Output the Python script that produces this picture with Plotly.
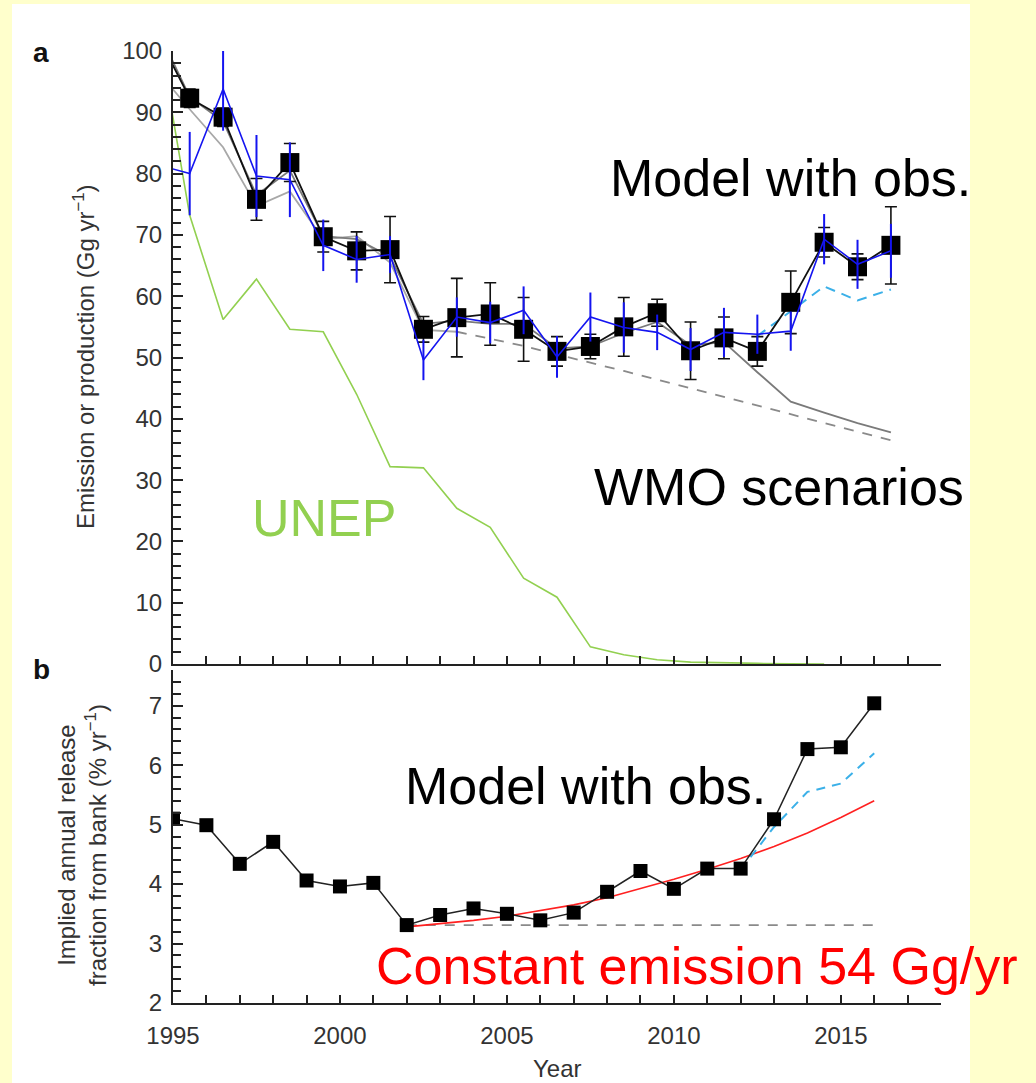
import plotly.graph_objects as go

# ---------------- data ----------------
# Panel a: emissions / production (Gg/yr), plotted at mid-year
years_a = [1994.5, 1995.5, 1996.5, 1997.5, 1998.5, 1999.5, 2000.5, 2001.5, 2002.5, 2003.5,
           2004.5, 2005.5, 2006.5, 2007.5, 2008.5, 2009.5, 2010.5, 2011.5, 2012.5, 2013.5,
           2014.5, 2015.5, 2016.5]
noaa_emis = [103.0, 92.3, 89.2, 75.8, 81.8, 69.7, 67.4, 67.6, 54.6, 56.5,
             57.1, 54.6, 51.0, 51.8, 55.0, 57.3, 51.1, 53.2, 51.0, 59.0,
             68.8, 64.8, 68.3]
noaa_err = [0, 1.5, 1.5, 3.4, 3.1, 2.5, 3.1, 5.4, 2.1, 6.4,
            5.1, 5.2, 2.4, 2.0, 4.8, 2.2, 4.7, 3.4, 2.4, 5.1,
            2.4, 2.1, 6.3]
agage_emis = [81.5, 80.0, 93.8, 79.6, 79.0, 68.3, 66.0, 66.8, 49.6, 56.6,
              55.7, 57.7, 50.1, 56.6, 54.9, 54.1, 51.3, 54.1, 53.8, 54.3,
              69.3, 65.2, 67.4]
agage_err = [0, 6.8, 6.8, 6.7, 6.1, 4.2, 3.8, 3.0, 3.3, 3.2,
             3.4, 3.9, 3.4, 4.0, 4.1, 2.9, 3.5, 4.0, 3.2, 3.2,
             4.1, 4.0, 4.4]
wmo_a = [104.0, 92.5, 88.5, 76.5, 80.5, 69.8, 69.3, 66.5, 55.5, 56.0,
         55.5, 55.5, 51.5, 51.8, 54.0, 55.8, 52.0, 52.5, 47.6, 42.8,
         41.0, 39.3, 37.8]
years_wmo_b = [1994.5, 1995.5, 1996.5, 1997.5, 1998.5, 1999.5, 2000.5, 2001.5, 2002.5, 2003.5]
wmo_b = [97.0, 90.5, 84.3, 74.7, 77.1, 69.3, 69.8, 65.5, 54.5, 54.2]
years_wmo_dash = [2003.5, 2004.5, 2005.5, 2006.5, 2007.5, 2008.5, 2009.5, 2010.5, 2011.5,
                  2012.5, 2013.5, 2014.5, 2015.5, 2016.5]
wmo_dash = [54.2, 53.0, 51.9, 50.5, 49.2, 47.8, 46.4, 45.0, 43.6, 42.2, 40.8, 39.3, 37.9, 36.5]
years_alt_a = [2012.5, 2013.5, 2014.5, 2015.5, 2016.5]
alt_a = [53.5, 57.5, 61.6, 59.3, 61.1]
years_unep = [1994.5, 1995.5, 1996.5, 1997.5, 1998.5, 1999.5, 2000.5, 2001.5, 2002.5, 2003.5,
              2004.5, 2005.5, 2006.5, 2007.5, 2008.5, 2009.5, 2010.5, 2011.5, 2012.5, 2013.5,
              2014.5]
unep_prod = [105.0, 73.2, 56.2, 62.8, 54.6, 54.2, 44.0, 32.2, 32.0, 25.4,
             22.3, 14.0, 10.9, 2.8, 1.5, 0.7, 0.3, 0.15, 0.1, 0.05, 0.0]

# Panel b: implied annual release fraction (% / yr)
years_b = [1995, 1996, 1997, 1998, 1999, 2000, 2001, 2002, 2003, 2004, 2005,
           2006, 2007, 2008, 2009, 2010, 2011, 2012, 2013, 2014, 2015, 2016]
release_obs = [5.10, 4.99, 4.34, 4.71, 4.06, 3.96, 4.02, 3.31, 3.48, 3.59, 3.50,
               3.39, 3.52, 3.87, 4.22, 3.92, 4.26, 4.26, 5.09, 6.27, 6.30, 7.04]
years_red = [2002, 2003, 2004, 2005, 2006, 2007, 2008, 2009, 2010, 2011, 2012, 2013, 2014, 2015, 2016]
release_const_emis = [3.28, 3.33, 3.39, 3.46, 3.55, 3.65, 3.77, 3.92, 4.08, 4.25, 4.43,
                      4.63, 4.86, 5.12, 5.40]
years_const = [2002, 2016]
release_const_frac = [3.31, 3.31]
years_alt_b = [2012, 2013, 2014, 2015, 2016]
alt_b = [4.24, 4.96, 5.55, 5.69, 6.20]

year_ticks = [1995, 2000, 2005, 2010, 2015]

# ---------------- styling ----------------
FONT = "Liberation Sans, Arial, Helvetica, sans-serif"
AXC = "#222222"
TXC = "#333333"
GREEN = "#92D050"
BLUE = "#1414F0"
LBLUE = "#3BB0E8"
RED = "#FF2020"

L, R, T, B = 173, 941, 51, 1003
W, H = R - L, B - T


def px(x):
    return (x - L) / W


def py(y):
    return (B - y) / H


fig = go.Figure()

# Panel a traces
fig.add_trace(go.Scatter(x=years_unep, y=unep_prod, mode="lines",
                         line=dict(color=GREEN, width=1.6), xaxis="x", yaxis="y"))
fig.add_trace(go.Scatter(x=years_wmo_b, y=wmo_b, mode="lines",
                         line=dict(color="#a8a8a8", width=1.8), xaxis="x", yaxis="y"))
fig.add_trace(go.Scatter(x=years_a, y=wmo_a, mode="lines",
                         line=dict(color="#7a7a7a", width=1.8), xaxis="x", yaxis="y"))
fig.add_trace(go.Scatter(x=years_wmo_dash, y=wmo_dash, mode="lines",
                         line=dict(color="#8a8a8a", width=1.8, dash="10px,9px"),
                         xaxis="x", yaxis="y"))
fig.add_trace(go.Scatter(x=years_alt_a, y=alt_a, mode="lines",
                         line=dict(color=LBLUE, width=2, dash="10px,7px"),
                         xaxis="x", yaxis="y"))
fig.add_trace(go.Scatter(x=years_a, y=noaa_emis, mode="lines+markers",
                         line=dict(color="#111111", width=1.8),
                         marker=dict(symbol="square", size=19, color="black"),
                         error_y=dict(type="data", array=noaa_err, color="#111111",
                                      thickness=1.6, width=6),
                         xaxis="x", yaxis="y"))
fig.add_trace(go.Scatter(x=years_a, y=agage_emis, mode="lines",
                         line=dict(color=BLUE, width=1.6),
                         error_y=dict(type="data", array=agage_err, color=BLUE,
                                      thickness=2, width=0),
                         xaxis="x", yaxis="y"))

# Panel b traces
fig.add_trace(go.Scatter(x=years_const, y=release_const_frac, mode="lines",
                         line=dict(color="#8a8a8a", width=1.6, dash="10px,9px"),
                         xaxis="x2", yaxis="y2"))
fig.add_trace(go.Scatter(x=years_red, y=release_const_emis, mode="lines",
                         line=dict(color=RED, width=1.6), xaxis="x2", yaxis="y2"))
fig.add_trace(go.Scatter(x=years_alt_b, y=alt_b, mode="lines",
                         line=dict(color=LBLUE, width=2, dash="9px,7px"),
                         xaxis="x2", yaxis="y2"))
fig.add_trace(go.Scatter(x=years_b, y=release_obs, mode="lines+markers",
                         line=dict(color="#222222", width=1.5),
                         marker=dict(symbol="square", size=14, color="black"),
                         xaxis="x2", yaxis="y2"))

axis_common = dict(showline=True, linecolor=AXC, linewidth=2, showgrid=False,
                   zeroline=False, ticks="inside", tickcolor=AXC, tickwidth=1.5,
                   tickfont=dict(family=FONT, size=24, color=TXC))

fig.update_layout(
    width=1036, height=1083,
    margin=dict(l=L, r=1036 - R, t=T, b=1083 - B, pad=0),
    paper_bgcolor="#FFFFCC", plot_bgcolor="white",
    showlegend=False,
    xaxis=dict(domain=[0, 1], anchor="y", range=[1995, 2018], showticklabels=False,
               tick0=1995, dtick=1, ticklen=8, **axis_common),
    yaxis=dict(domain=[py(664), 1.0], anchor="x", range=[0, 100], tick0=0, dtick=10,
               ticklen=10, ticklabelstandoff=4,
               minor=dict(dtick=2, ticklen=8, ticks="inside", tickcolor=AXC, tickwidth=1.5),
               **axis_common),
    xaxis2=dict(domain=[0, 1], anchor="y2", range=[1995, 2018], tickmode="array",
                tickvals=year_ticks, ticktext=[str(v) for v in year_ticks], ticklen=8,
                ticklabelstandoff=10,
                minor=dict(dtick=1, tick0=1995, ticklen=8, ticks="inside", tickcolor=AXC,
                           tickwidth=1.5),
                **axis_common),
    yaxis2=dict(domain=[0, py(670)], anchor="x2", range=[2, 7.6], tick0=2, dtick=1,
                ticklen=10, ticklabelstandoff=4,
                minor=dict(dtick=0.2, ticklen=8, ticks="inside", tickcolor=AXC, tickwidth=1.5),
                **axis_common),
)

# white panel behind the figure
fig.add_shape(type="rect", xref="paper", yref="paper", layer="below",
              x0=px(12), x1=px(970), y0=py(1083), y1=py(4),
              fillcolor="white", line=dict(width=0))


def ann(text, x, y, size, color, **kw):
    fig.add_annotation(text=text, x=px(x), y=py(y), xref="paper", yref="paper",
                       showarrow=False, xanchor="center", yanchor="middle",
                       font=dict(family=FONT, size=size, color=color), **kw)


ann("<b>a</b>", 41, 53, 28, "#111111")
ann("<b>b</b>", 41, 669, 28, "#111111")
ann("Emission or production (Gg yr<sup>−1</sup>)", 84, 357, 24, TXC, textangle=-90)
ann("Implied annual release<br>fraction from bank (% yr<sup>−1</sup>)", 82, 845, 24, TXC,
    textangle=-90)
ann("Year", 557, 1068, 24, TXC)

ann("Model with obs.", 790, 178, 52, "black")
ann("WMO scenarios", 779, 487, 52, "black")
ann("UNEP", 324, 518, 52, GREEN)
ann("Model with obs.", 585, 786, 52, "black")
ann("Constant emission 54 Gg/yr", 697, 966, 52, "#FF0000")

fig.write_html("out.html")
